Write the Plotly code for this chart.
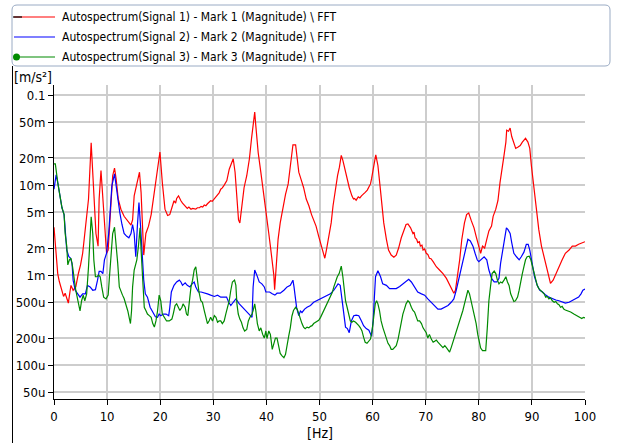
import plotly.graph_objects as go

# ---------------- data (frequency in Hz, magnitude in m/s^2) ----------------
red_points = [
    (0.0, 3.4e-3), (0.3, 2.2e-3), (0.7, 1.04e-3), (1.0, 8.5e-4), (1.3, 7.4e-4), (1.6, 6.2e-4),
    (1.8, 5.8e-4), (2.1, 6.3e-4), (2.4, 5.6e-4), (2.7, 4.9e-4), (3.0, 6.5e-4), (3.2, 7.7e-4),
    (3.6, 6.8e-4), (4.1, 7.4e-4), (4.6, 1.05e-3), (5.0, 1.3e-3), (5.4, 1.75e-3), (6.0, 3.5e-3),
    (6.5, 7.0e-3), (7.0, 2.95e-2), (7.5, 9.0e-3), (7.9, 2.9e-3), (8.3, 2.1e-3), (8.5, 7.0e-3),
    (8.85, 1.45e-2), (9.2, 7.0e-3), (9.5, 3.2e-3), (9.9, 1.75e-3), (10.2, 1.9e-3), (10.6, 5.4e-3),
    (11.05, 1.27e-2), (11.4, 1.54e-2), (11.7, 1.17e-2), (12.1, 7.0e-3), (12.6, 5.4e-3), (13.2, 4.5e-3),
    (13.9, 4.0e-3), (14.5, 3.6e-3), (14.8, 4.1e-3), (15.1, 7.6e-3), (15.6, 1.03e-2), (16.1, 1.39e-2),
    (16.4, 8.3e-3), (16.7, 2.9e-3), (16.9, 1.67e-3), (17.3, 2.9e-3), (17.8, 3.5e-3), (18.3, 4.7e-3),
    (18.7, 7.0e-3), (19.2, 1.1e-2), (19.6, 1.8e-2), (19.95, 2.33e-2), (20.4, 1.07e-2), (20.9, 5.4e-3),
    (21.4, 4.6e-3), (21.8, 4.7e-3), (22.2, 5.6e-3), (22.6, 6.7e-3), (22.9, 6.3e-3), (23.1, 7.1e-3),
    (23.45, 7.6e-3), (23.7, 6.9e-3), (23.9, 6.7e-3), (24.2, 6.3e-3), (24.5, 6.0e-3), (24.8, 5.8e-3),
    (25.1, 5.5e-3), (25.4, 5.7e-3), (25.8, 5.4e-3), (26.1, 5.5e-3), (26.4, 5.5e-3), (26.7, 5.4e-3),
    (27.0, 5.6e-3), (27.4, 5.6e-3), (27.7, 5.8e-3), (28.0, 5.7e-3), (28.3, 6.0e-3), (28.6, 5.9e-3),
    (28.9, 6.2e-3), (29.2, 6.5e-3), (29.5, 6.7e-3), (29.8, 6.6e-3), (30.2, 7.1e-3), (30.5, 7.3e-3),
    (30.8, 7.9e-3), (31.1, 8.2e-3), (31.4, 9.0e-3), (31.7, 9.3e-3), (32.05, 1.0e-2), (32.55, 1.12e-2),
    (33.0, 1.5e-2), (33.4, 1.7e-2), (33.75, 1.96e-2), (34.1, 1.39e-2), (34.45, 7.0e-3), (34.75, 4.1e-3),
    (35.0, 3.8e-3), (35.4, 6.4e-3), (35.8, 9.4e-3), (36.3, 1.27e-2), (36.8, 1.96e-2), (37.2, 3.29e-2),
    (37.6, 5.5e-2), (37.8, 6.45e-2), (38.0, 4.6e-2), (38.45, 2.3e-2), (38.95, 1.39e-2), (39.4, 9.0e-3),
    (39.9, 5.4e-3), (40.3, 3.8e-3), (40.45, 2.9e-3), (40.75, 2.1e-3), (41.1, 1.35e-3), (41.4, 1.0e-3),
    (41.55, 6.9e-4), (41.8, 1.24e-3), (42.2, 2.5e-3), (42.6, 3.8e-3), (43.1, 5.6e-3), (43.6, 7.9e-3),
    (44.1, 1.03e-2), (44.5, 1.65e-2), (44.8, 2.23e-2), (45.0, 2.8e-2), (45.5, 2.8e-2), (45.7, 2.3e-2),
    (46.1, 1.39e-2), (46.6, 1.12e-2), (47.0, 9.4e-3), (47.5, 7.0e-3), (48.0, 5.9e-3), (48.5, 4.7e-3),
    (48.9, 4.1e-3), (49.35, 3.5e-3), (49.85, 2.7e-3), (50.35, 2.1e-3), (50.7, 1.75e-3), (51.0, 1.54e-3),
    (51.3, 1.9e-3), (51.7, 2.7e-3), (52.2, 3.8e-3), (52.55, 5.9e-3), (53.0, 9.0e-3), (53.4, 1.27e-2),
    (53.75, 1.58e-2), (54.1, 2.14e-2), (54.4, 1.88e-2), (54.75, 1.51e-2), (55.2, 1.17e-2), (55.6, 9.4e-3),
    (56.1, 7.6e-3), (56.4, 7.0e-3), (56.6, 7.1e-3), (56.9, 6.8e-3), (57.3, 7.4e-3), (57.6, 7.2e-3),
    (57.9, 7.6e-3), (58.3, 7.9e-3), (58.6, 8.3e-3), (59.0, 8.8e-3), (59.3, 9.4e-3), (59.6, 1.03e-2),
    (59.8, 1.17e-2), (60.05, 1.5e-2), (60.4, 1.87e-2), (60.6, 2.17e-2), (61.0, 1.65e-2), (61.4, 9.8e-3),
    (61.75, 5.9e-3), (62.1, 3.8e-3), (62.6, 2.5e-3), (63.0, 1.9e-3), (63.5, 1.67e-3), (64.0, 1.58e-3),
    (64.45, 1.67e-3), (64.9, 2.0e-3), (65.4, 2.6e-3), (65.9, 3.2e-3), (66.3, 3.65e-3), (66.65, 3.7e-3),
    (67.15, 3.35e-3), (67.6, 2.9e-3), (67.8, 3.0e-3), (68.0, 2.6e-3), (68.3, 2.5e-3), (68.5, 2.3e-3),
    (68.8, 2.35e-3), (69.0, 2.1e-3), (69.3, 2.15e-3), (69.5, 1.9e-3), (69.8, 1.95e-3), (70.1, 1.75e-3),
    (70.4, 1.7e-3), (70.7, 1.54e-3), (71.0, 1.52e-3), (71.4, 1.41e-3), (72.0, 1.24e-3), (72.6, 1.14e-3),
    (73.25, 1.04e-3), (73.9, 9.2e-4), (74.5, 7.75e-4), (74.9, 7.1e-4), (75.3, 6.3e-4), (75.6, 6.8e-4),
    (75.9, 8.8e-4), (76.4, 1.48e-3), (76.8, 2.5e-3), (77.3, 3.8e-3), (77.7, 4.7e-3), (78.1, 4.9e-3),
    (78.6, 4.0e-3), (79.1, 3.35e-3), (79.5, 2.7e-3), (79.8, 2.3e-3), (80.0, 2.1e-3), (80.35, 1.75e-3),
    (80.7, 2.1e-3), (81.1, 2.0e-3), (81.5, 2.5e-3), (81.9, 3.1e-3), (82.4, 3.5e-3), (82.7, 4.5e-3),
    (83.2, 5.4e-3), (83.6, 6.7e-3), (84.0, 1.07e-2), (84.4, 1.65e-2), (84.75, 2.14e-2), (85.1, 3.0e-2),
    (85.25, 4.06e-2), (85.6, 3.96e-2), (85.9, 4.3e-2), (86.2, 3.46e-2), (86.5, 3.02e-2), (86.95, 2.55e-2),
    (87.4, 2.65e-2), (87.8, 2.75e-2), (88.2, 3.0e-2), (88.8, 3.3e-2), (89.25, 3.0e-2), (89.6, 2.55e-2),
    (89.9, 1.65e-2), (90.4, 9.0e-3), (90.9, 5.4e-3), (91.3, 3.2e-3), (91.8, 2.1e-3), (92.3, 1.6e-3),
    (92.8, 1.24e-3), (93.2, 9.6e-4), (93.5, 8.1e-4), (94.0, 8.8e-4), (94.5, 1.04e-3), (95.1, 1.24e-3),
    (95.7, 1.48e-3), (96.3, 1.75e-3), (97.0, 1.9e-3), (97.6, 2.1e-3), (98.2, 2.1e-3), (98.8, 2.2e-3),
    (99.4, 2.27e-3), (100.0, 2.35e-3),
]

blue_points = [
    (0.0, 9.0e-3), (0.4, 1.3e-2), (0.7, 1.07e-2), (1.1, 7.6e-3), (1.5, 5.6e-3), (1.9, 4.7e-3),
    (2.1, 2.9e-3), (2.4, 1.9e-3), (2.8, 1.6e-3), (3.1, 1.55e-3), (3.4, 1.35e-3), (3.6, 8.8e-4),
    (4.0, 6.8e-4), (4.5, 6.2e-4), (4.9, 5.7e-4), (5.4, 6.2e-4), (5.9, 6.2e-4), (6.3, 7.7e-4),
    (6.8, 7.4e-4), (7.3, 6.8e-4), (7.8, 6.9e-4), (8.2, 8.8e-4), (8.5, 1.1e-3), (8.85, 1.1e-3),
    (9.2, 1.04e-3), (9.5, 1.48e-3), (9.9, 1.75e-3), (10.3, 2.9e-3), (10.6, 5.4e-3), (10.9, 9.8e-3),
    (11.4, 1.33e-2), (11.7, 9.8e-3), (12.0, 7.0e-3), (12.4, 4.9e-3), (12.8, 3.65e-3), (13.2, 2.9e-3),
    (13.7, 2.7e-3), (14.1, 2.6e-3), (14.5, 2.9e-3), (14.8, 3.65e-3), (15.1, 2.9e-3), (15.4, 1.6e-3),
    (15.7, 3.5e-3), (16.0, 6.4e-3), (16.3, 3.5e-3), (16.6, 1.6e-3), (16.9, 8.8e-4), (17.2, 6.2e-4),
    (17.6, 5.7e-4), (18.1, 4.4e-4), (18.6, 3.85e-4), (19.1, 3.45e-4), (19.5, 3.4e-4), (19.8, 3.7e-4),
    (20.1, 3.55e-4), (20.6, 3.7e-4), (21.1, 3.7e-4), (21.6, 3.55e-4), (21.8, 4.35e-4), (22.1, 6.5e-4),
    (22.6, 7.7e-4), (23.1, 8.4e-4), (23.6, 8.8e-4), (23.9, 8.4e-4), (24.2, 7.7e-4), (24.7, 8.2e-4),
    (25.1, 7.7e-4), (25.6, 7.4e-4), (26.0, 8.0e-4), (26.4, 8.4e-4), (26.7, 7.4e-4), (27.2, 6.5e-4),
    (27.7, 6.5e-4), (28.3, 6.4e-4), (28.9, 6.2e-4), (29.5, 6.0e-4), (30.2, 5.8e-4), (30.8, 6.0e-4),
    (31.4, 5.7e-4), (32.05, 5.7e-4), (32.5, 5.7e-4), (32.9, 5.0e-4), (33.3, 4.6e-4), (33.75, 5.0e-4),
    (34.25, 5.45e-4), (34.9, 4.8e-4), (35.5, 4.4e-4), (36.1, 4.0e-4), (36.8, 3.7e-4), (37.3, 3.4e-4),
    (37.5, 7.4e-4), (37.8, 1.14e-3), (38.2, 1.0e-3), (38.65, 8.4e-4), (39.15, 8.0e-4), (39.6, 7.4e-4),
    (39.9, 6.5e-4), (40.1, 6.5e-4), (40.6, 6.5e-4), (41.1, 6.2e-4), (41.6, 6.0e-4), (42.0, 6.3e-4),
    (42.6, 6.3e-4), (43.3, 6.8e-4), (43.9, 7.4e-4), (44.5, 7.7e-4), (45.0, 8.8e-4), (45.2, 7.4e-4),
    (45.5, 5.7e-4), (45.7, 4.3e-4), (46.1, 3.55e-4), (46.4, 4.0e-4), (46.7, 3.85e-4), (47.2, 4.2e-4),
    (47.65, 4.4e-4), (48.3, 4.6e-4), (48.9, 5.0e-4), (49.5, 5.2e-4), (50.2, 5.45e-4), (50.8, 5.7e-4),
    (51.4, 6.0e-4), (52.05, 6.2e-4), (52.7, 6.8e-4), (53.1, 7.5e-4), (53.5, 8.0e-4), (53.9, 7.7e-4),
    (54.25, 5.2e-4), (54.6, 3.7e-4), (54.9, 2.65e-4), (55.25, 2.55e-4), (55.6, 2.3e-4), (56.0, 3.1e-4),
    (56.45, 3.55e-4), (56.9, 3.6e-4), (57.4, 3.55e-4), (57.9, 3.1e-4), (58.3, 2.75e-4), (58.8, 2.55e-4),
    (59.3, 2.45e-4), (59.8, 2.1e-4), (60.1, 3.1e-4), (60.3, 5.2e-4), (60.55, 9.6e-4), (61.0, 1.12e-3),
    (61.5, 9.6e-4), (61.9, 8.0e-4), (62.6, 7.7e-4), (63.2, 7.1e-4), (63.8, 7.1e-4), (64.45, 7.1e-4),
    (65.1, 7.5e-4), (65.7, 8.0e-4), (66.3, 8.4e-4), (66.8, 9.0e-4), (67.3, 8.4e-4), (67.9, 7.4e-4),
    (68.5, 6.5e-4), (69.2, 6.2e-4), (69.8, 6.0e-4), (70.4, 5.45e-4), (71.05, 5.0e-4), (71.7, 4.6e-4),
    (72.3, 4.2e-4), (72.9, 4.2e-4), (73.6, 4.4e-4), (74.2, 4.6e-4), (74.8, 5.0e-4), (75.3, 5.45e-4),
    (75.75, 6.8e-4), (76.2, 8.8e-4), (76.7, 1.24e-3), (77.2, 1.6e-3), (77.6, 2.1e-3), (77.95, 2.5e-3),
    (78.4, 2.4e-3), (78.9, 2.1e-3), (79.3, 1.75e-3), (79.7, 1.48e-3), (80.0, 1.41e-3), (80.5, 1.5e-3),
    (81.0, 1.6e-3), (81.5, 1.48e-3), (81.9, 1.14e-3), (82.4, 9.2e-4), (82.9, 8.4e-4), (83.4, 8.4e-4),
    (83.8, 9.2e-4), (84.1, 1.35e-3), (84.5, 1.9e-3), (84.9, 2.7e-3), (85.2, 3.35e-3), (85.5, 3.2e-3),
    (85.9, 2.9e-3), (86.2, 2.3e-3), (86.6, 1.75e-3), (87.1, 1.6e-3), (87.6, 1.48e-3), (88.0, 1.6e-3),
    (88.5, 1.8e-3), (88.95, 2.2e-3), (89.3, 2.2e-3), (89.6, 1.9e-3), (90.1, 1.35e-3), (90.5, 9.6e-4),
    (91.0, 7.7e-4), (91.5, 6.8e-4), (92.0, 6.5e-4), (92.6, 6.0e-4), (93.2, 5.7e-4), (93.9, 5.45e-4),
    (94.5, 5.3e-4), (95.1, 5.2e-4), (95.7, 5.0e-4), (96.3, 4.9e-4), (97.0, 5.0e-4), (97.6, 5.2e-4),
    (98.2, 5.45e-4), (98.8, 5.7e-4), (99.25, 6.2e-4), (99.6, 6.8e-4), (100.0, 7.0e-4),
]

green_points = [
    (0.0, 1.72e-2), (0.25, 1.72e-2), (0.7, 1.07e-2), (1.1, 7.6e-3), (1.5, 5.6e-3), (1.9, 4.7e-3),
    (2.1, 2.9e-3), (2.4, 2.1e-3), (2.6, 1.3e-3), (2.9, 1.48e-3), (3.2, 1.54e-3), (3.5, 1.24e-3),
    (3.8, 8.8e-4), (4.1, 6.8e-4), (4.5, 5.2e-4), (4.9, 4.0e-4), (5.2, 5.2e-4), (5.5, 6.0e-4),
    (5.8, 5.2e-4), (6.15, 6.2e-4), (6.5, 1.24e-3), (6.8, 2.9e-3), (7.0, 4.45e-3), (7.3, 2.9e-3),
    (7.5, 1.48e-3), (7.8, 9.6e-4), (8.1, 9.6e-4), (8.4, 1.0e-3), (8.7, 9.6e-4), (9.0, 7.4e-4),
    (9.35, 5.7e-4), (9.8, 5.45e-4), (10.2, 6.0e-4), (10.4, 8.8e-4), (10.7, 1.75e-3), (11.05, 2.9e-3),
    (11.4, 3.4e-3), (11.7, 2.3e-3), (12.0, 1.35e-3), (12.3, 7.4e-4), (12.6, 6.5e-4), (12.9, 6.0e-4),
    (13.2, 5.5e-4), (13.55, 4.8e-4), (13.9, 4.0e-4), (14.2, 3.3e-4), (14.4, 2.9e-4), (14.6, 4.0e-4),
    (14.8, 7.4e-4), (15.1, 1.14e-3), (15.6, 1.48e-3), (15.9, 2.1e-3), (16.2, 3.35e-3), (16.4, 1.9e-3),
    (16.7, 7.4e-4), (17.0, 4.4e-4), (17.3, 4.05e-4), (17.6, 3.7e-4), (17.95, 3.55e-4), (18.3, 3.4e-4),
    (18.6, 2.9e-4), (18.9, 2.65e-4), (19.2, 3.1e-4), (19.5, 4.0e-4), (19.8, 6.0e-4), (20.1, 5.2e-4),
    (20.4, 3.7e-4), (20.75, 3.4e-4), (21.2, 3.1e-4), (21.7, 3.1e-4), (22.2, 3.25e-4), (22.45, 3.7e-4),
    (22.8, 4.6e-4), (23.1, 4.8e-4), (23.45, 4.4e-4), (23.7, 4.05e-4), (24.1, 4.4e-4), (24.3, 4.8e-4),
    (24.7, 4.4e-4), (24.95, 3.7e-4), (25.2, 3.55e-4), (25.5, 5.2e-4), (25.8, 7.4e-4), (26.1, 8.8e-4),
    (26.4, 1.14e-3), (26.7, 1.24e-3), (27.0, 8.8e-4), (27.3, 6.5e-4), (27.65, 5.2e-4), (27.95, 5.0e-4),
    (28.3, 4.05e-4), (28.6, 3.4e-4), (28.9, 2.9e-4), (29.2, 3.1e-4), (29.5, 3.4e-4), (29.85, 3.1e-4),
    (30.2, 3.55e-4), (30.5, 3.4e-4), (30.8, 3.0e-4), (31.1, 3.1e-4), (31.4, 3.1e-4), (31.7, 2.9e-4),
    (32.05, 3.1e-4), (32.35, 3.7e-4), (32.7, 4.4e-4), (33.0, 5.2e-4), (33.3, 6.8e-4), (33.6, 8.4e-4),
    (34.0, 8.8e-4), (34.25, 7.7e-4), (34.45, 4.8e-4), (34.7, 3.7e-4), (35.0, 3.25e-4), (35.3, 3.0e-4),
    (35.6, 2.6e-4), (35.9, 2.4e-4), (36.3, 2.5e-4), (36.6, 3.1e-4), (36.9, 3.4e-4), (37.3, 3.7e-4),
    (37.5, 4.05e-4), (37.8, 4.8e-4), (38.0, 4.05e-4), (38.3, 2.9e-4), (38.65, 2.4e-4), (38.95, 2.6e-4),
    (39.3, 2.2e-4), (39.6, 2.0e-4), (39.9, 2.4e-4), (40.1, 1.98e-4), (40.45, 2.4e-4), (40.75, 2.2e-4),
    (41.1, 1.5e-4), (41.4, 1.8e-4), (41.7, 2.0e-4), (42.0, 2.0e-4), (42.3, 1.65e-4), (42.6, 1.35e-4),
    (42.95, 1.27e-4), (43.3, 1.21e-4), (43.6, 1.32e-4), (43.9, 1.6e-4), (44.2, 2.1e-4), (44.5, 2.6e-4),
    (44.8, 3.5e-4), (45.1, 4.05e-4), (45.5, 4.4e-4), (45.8, 4.2e-4), (46.1, 3.7e-4), (46.4, 3.1e-4),
    (46.7, 2.9e-4), (47.0, 2.65e-4), (47.3, 2.55e-4), (47.65, 2.65e-4), (48.0, 2.6e-4), (48.3, 2.7e-4),
    (48.6, 2.75e-4), (48.9, 2.9e-4), (49.2, 3.0e-4), (49.5, 3.05e-4), (49.85, 3.15e-4), (50.2, 3.4e-4),
    (50.5, 3.7e-4), (50.8, 4.05e-4), (51.1, 4.4e-4), (51.4, 4.8e-4), (51.7, 5.2e-4), (52.05, 5.7e-4),
    (52.4, 6.4e-4), (52.7, 7.4e-4), (53.0, 8.4e-4), (53.35, 9.6e-4), (53.7, 1.04e-3), (54.0, 1.2e-3),
    (54.1, 1.26e-3), (54.4, 9.6e-4), (54.6, 7.4e-4), (54.9, 5.2e-4), (55.2, 4.4e-4), (55.5, 3.7e-4),
    (55.8, 3.1e-4), (56.1, 3.0e-4), (56.4, 3.1e-4), (56.8, 3.0e-4), (57.1, 2.9e-4), (57.4, 2.75e-4),
    (57.7, 2.6e-4), (58.0, 2.4e-4), (58.3, 2.05e-4), (58.6, 1.8e-4), (58.95, 1.75e-4), (59.3, 1.85e-4),
    (59.6, 1.95e-4), (59.9, 2.4e-4), (60.25, 3.4e-4), (60.5, 4.8e-4), (60.75, 5.2e-4), (61.0, 4.8e-4),
    (61.3, 4.05e-4), (61.6, 3.1e-4), (61.95, 2.6e-4), (62.3, 2.2e-4), (62.6, 1.95e-4), (62.9, 1.75e-4),
    (63.2, 1.65e-4), (63.5, 1.5e-4), (63.8, 1.5e-4), (64.1, 1.57e-4), (64.45, 1.65e-4), (64.8, 1.95e-4),
    (65.1, 2.4e-4), (65.4, 3.1e-4), (65.7, 3.7e-4), (66.0, 4.2e-4), (66.3, 4.8e-4), (66.65, 5.2e-4),
    (66.95, 5.0e-4), (67.3, 4.4e-4), (67.6, 4.05e-4), (67.9, 3.9e-4), (68.2, 3.4e-4), (68.5, 3.1e-4),
    (68.85, 3.1e-4), (69.2, 2.9e-4), (69.5, 2.6e-4), (69.8, 2.4e-4), (70.1, 2.3e-4), (70.4, 2.0e-4),
    (70.7, 2.2e-4), (71.05, 1.95e-4), (71.4, 1.8e-4), (71.7, 1.85e-4), (72.0, 1.9e-4), (72.3, 1.8e-4),
    (72.6, 1.7e-4), (72.9, 1.65e-4), (73.25, 1.57e-4), (73.6, 1.65e-4), (73.9, 1.57e-4), (74.2, 1.5e-4),
    (74.5, 1.4e-4), (74.8, 1.57e-4), (75.2, 1.85e-4), (75.4, 2.0e-4), (75.75, 2.3e-4), (76.1, 2.8e-4),
    (76.4, 3.1e-4), (76.7, 3.4e-4), (77.0, 4.05e-4), (77.3, 4.8e-4), (77.6, 5.7e-4), (77.95, 6.8e-4),
    (78.25, 6.2e-4), (78.6, 5.0e-4), (78.9, 4.4e-4), (79.2, 3.7e-4), (79.5, 2.9e-4), (79.8, 2.2e-4),
    (80.0, 1.95e-4), (80.35, 1.55e-4), (80.7, 1.45e-4), (81.3, 1.45e-4), (81.6, 2.6e-4), (81.9, 5.2e-4),
    (82.2, 7.4e-4), (82.5, 1.04e-3), (82.9, 1.11e-3), (83.2, 1.04e-3), (83.5, 8.8e-4), (83.8, 8.0e-4),
    (84.1, 8.4e-4), (84.4, 8.2e-4), (84.75, 8.8e-4), (85.1, 9.6e-4), (85.4, 8.4e-4), (85.7, 7.7e-4),
    (86.0, 6.2e-4), (86.3, 5.45e-4), (86.6, 5.1e-4), (86.9, 5.2e-4), (87.3, 5.7e-4), (87.6, 6.8e-4),
    (87.9, 8.8e-4), (88.2, 1.04e-3), (88.5, 1.24e-3), (88.8, 1.48e-3), (89.1, 1.6e-3), (89.5, 1.62e-3),
    (89.8, 1.48e-3), (90.1, 1.24e-3), (90.4, 1.04e-3), (90.7, 8.8e-4), (91.0, 7.7e-4), (91.3, 7.1e-4),
    (91.6, 6.8e-4), (91.9, 6.5e-4), (92.3, 6.2e-4), (92.6, 5.7e-4), (92.9, 5.8e-4), (93.2, 5.45e-4),
    (93.5, 5.6e-4), (93.85, 5.2e-4), (94.2, 5.0e-4), (94.5, 5.1e-4), (94.8, 4.8e-4), (95.1, 4.7e-4),
    (95.4, 4.4e-4), (95.7, 4.5e-4), (96.0, 4.2e-4), (96.3, 4.1e-4), (96.7, 4.05e-4), (97.3, 3.9e-4),
    (97.9, 3.7e-4), (98.5, 3.55e-4), (99.1, 3.4e-4), (99.4, 3.3e-4), (99.7, 3.4e-4), (100.0, 3.35e-4),
]

series_names = [
    "Autospectrum(Signal 1) - Mark 1 (Magnitude) \\ FFT",
    "Autospectrum(Signal 2) - Mark 2 (Magnitude) \\ FFT",
    "Autospectrum(Signal 3) - Mark 3 (Magnitude) \\ FFT",
]
series_colors = ["#ff0000", "#0000ff", "#008a00"]

x_ticks = [0, 10, 20, 30, 40, 50, 60, 70, 80, 90, 100]
y_ticks = [5e-5, 1e-4, 2e-4, 5e-4, 1e-3, 2e-3, 5e-3, 1e-2, 2e-2, 5e-2, 0.1]
y_tick_text = ["50u", "100u", "200u", "500u", "1m", "2m", "5m", "10m", "20m", "50m", "0.1"]
y_unit = "[m/s²]"
x_unit = "[Hz]"

# ---------------- layout geometry ----------------
W, H = 617, 443
L, R, T, B = 54, 32, 85, 44
PW, PH = W - L - R, H - T - B


def px(x):
    return (x - L) / PW


def py(y):
    return (H - B - y) / PH


FONT = "DejaVu Sans Condensed, DejaVu Sans, sans-serif"

fig = go.Figure()
for pts, name, col in zip([red_points, blue_points, green_points], series_names, series_colors):
    fig.add_trace(go.Scatter(
        x=[p[0] for p in pts], y=[p[1] for p in pts], mode="lines", name=name,
        line=dict(color=col, width=1.2), showlegend=False, hoverinfo="skip",
    ))

axis_common = dict(
    showgrid=True, gridcolor="#cdcdcd", gridwidth=1.5,
    showline=True, linecolor="black", linewidth=1,
    ticks="outside", ticklen=5, tickcolor="black", tickwidth=1,
    zeroline=False, tickfont=dict(family=FONT, size=13, color="black"),
)

fig.update_layout(
    width=W, height=H,
    margin=dict(l=L, r=R, t=T, b=B, pad=0),
    paper_bgcolor="white", plot_bgcolor="white",
    xaxis=dict(range=[0, 100], tickmode="array", tickvals=x_ticks, **axis_common),
    yaxis=dict(type="log", range=[-4.375, -0.889], tickmode="array",
               tickvals=y_ticks, ticktext=y_tick_text, **axis_common),
)

shapes = []
annotations = []

# legend frame (rounded rectangle)
x0, x1, y0, y1, r = 12, 610, 5, 66, 5
path = (f"M {px(x0 + r)},{py(y0)} L {px(x1 - r)},{py(y0)} "
        f"Q {px(x1)},{py(y0)} {px(x1)},{py(y0 + r)} L {px(x1)},{py(y1 - r)} "
        f"Q {px(x1)},{py(y1)} {px(x1 - r)},{py(y1)} L {px(x0 + r)},{py(y1)} "
        f"Q {px(x0)},{py(y1)} {px(x0)},{py(y1 - r)} L {px(x0)},{py(y0 + r)} "
        f"Q {px(x0)},{py(y0)} {px(x0 + r)},{py(y0)} Z")
shapes.append(dict(type="path", xref="paper", yref="paper", path=path,
                   line=dict(color="#9aabc4", width=1), fillcolor="white", layer="below"))

rows = [17, 37, 57]
for i, (yy, name, col) in enumerate(zip(rows, series_names, series_colors)):
    shapes.append(dict(type="line", xref="paper", yref="paper",
                       x0=px(14), x1=px(55), y0=py(yy), y1=py(yy),
                       line=dict(color=col, width=1.2)))
    annotations.append(dict(xref="paper", yref="paper", x=px(60), y=py(yy),
                            xanchor="left", yanchor="middle", showarrow=False, text=name,
                            font=dict(family=FONT, size=12, color="black")))
shapes.append(dict(type="line", xref="paper", yref="paper", x0=px(13), x1=px(22),
                   y0=py(rows[0]), y1=py(rows[0]), line=dict(color="black", width=1.2)))
shapes.append(dict(type="circle", xref="paper", yref="paper",
                   x0=px(13), x1=px(20), y0=py(rows[2] - 3.5), y1=py(rows[2] + 3.5),
                   fillcolor=series_colors[2], line=dict(color=series_colors[2], width=0)))

# left frame line
shapes.append(dict(type="line", xref="paper", yref="paper", x0=px(12.5), x1=px(12.5),
                   y0=py(66), y1=py(443), line=dict(color="black", width=1)))

annotations.append(dict(xref="paper", yref="paper", x=px(12), y=py(77), xanchor="left",
                        yanchor="middle", showarrow=False, text=y_unit,
                        font=dict(family=FONT, size=14, color="black")))
annotations.append(dict(xref="paper", yref="paper", x=px(320), y=py(433), xanchor="center",
                        yanchor="middle", showarrow=False, text=x_unit,
                        font=dict(family=FONT, size=14, color="black")))

fig.update_layout(shapes=shapes, annotations=annotations)
fig.write_html("out.html")
